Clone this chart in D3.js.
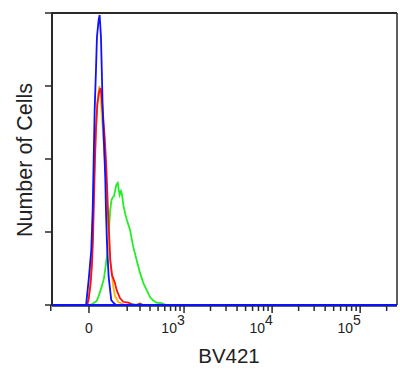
<!DOCTYPE html>
<html>
<head>
<meta charset="utf-8">
<script src="https://cdn.jsdelivr.net/npm/d3@7"></script>
<style>
  html, body { margin: 0; padding: 0; background: #fff; }
  svg { display: block; font-family: "Liberation Sans", Arial, sans-serif; }
</style>
</head>
<body>
<svg id="chart" width="400" height="369"></svg>
<script>
// ---------- data (fluorescence intensity, % of max count) ----------
const greenX  = [7, 35, 42, 58, 69, 76, 84, 90, 95, 100, 107, 115, 120, 127, 133, 141, 147, 152, 160, 166, 175, 187, 198, 220, 244, 271, 300, 331, 365, 400, 438, 480, 552, 620];
const greenY  = [0, 1.4, 2.7, 6.2, 9.2, 12.7, 17.1, 22.3, 27.4, 32.5, 36, 37, 37.3, 39.4, 41.1, 41.8, 39.4, 37.7, 39, 38, 34.2, 31.2, 29.1, 25.7, 19.9, 15.4, 11, 7.5, 5.1, 2.7, 1.5, 0.8, 0.6, 0];

const orangeX = [-7, 0, 7, 13.5, 19.4, 24.8, 31.6, 38.4, 46.8, 52.4, 57, 64.2, 71.4, 78.7, 86.1, 91.1, 98.8, 107.7, 116.2, 125.5, 144, 164, 185];
const orangeY = [0, 2.7, 8.6, 18.8, 34.2, 47.9, 60.6, 69.5, 75, 72.3, 66.8, 59.2, 51.4, 42.8, 32.5, 24.7, 16.1, 11, 6.2, 3.1, 1, 0.5, 0];

const redX    = [-9, -2.3, 6.8, 13.5, 18, 22.5, 27, 31.6, 37.5, 45.4, 52.4, 57, 62.8, 72.4, 78.7, 83.6, 88.6, 95.2, 100.4, 109.3, 125.5, 135, 154, 174, 207, 234, 265, 300, 328];
const redY    = [0, 1.7, 6.8, 13.7, 22.3, 36, 49.7, 60, 68.5, 72.9, 74.3, 71.9, 66.8, 57.5, 49.7, 41.8, 32.5, 23.3, 15.4, 10.3, 7.5, 5.1, 2.4, 1.1, 0.8, 0.3, 0, 0.5, 0];

const blueX   = [-32, -13, -1.3, 10.4, 16.7, 21.2, 25.7, 31.6, 36.1, 43.9, 48.6, 54.7, 59.4, 62.8, 69, 75.3, 78.7, 83.6, 92.2, 105.6, 118.4, 131];
const blueY   = [0, 0, 8.6, 18.8, 32.5, 49.7, 66.8, 80.5, 91.8, 97.6, 99.3, 91.8, 78.1, 66.8, 55.5, 43.8, 32.5, 21.2, 9.6, 1.7, 0.7, 0];

const majorTicks = [0, 1e3, 1e4, 1e5];
const majorExp   = [null, "3", "4", "5"];
const minorTicks = [-200, 200, 300, 400, 500, 600, 700, 800, 900,
                    2e3, 3e3, 4e3, 5e3, 6e3, 7e3, 8e3, 9e3,
                    2e4, 3e4, 4e4, 5e4, 6e4, 7e4, 8e4, 9e4, 2e5];
const yTicks = [0, 25, 50, 75, 100];

const series = [
  { x: greenX,  y: greenY,  color: "#22ee22" },
  { x: orangeX, y: orangeY, color: "#ffb400" },
  { x: redX,    y: redY,    color: "#ff1010" },
  { x: blueX,   y: blueY,   color: "#1010ff" }
];

// ---------- logicle-like transform ----------
const T = 262144, P = 1.07, Z_MIN = -0.42, Z_MAX = 3.5;
function raw(z) { return Math.pow(10, z) - P * P * Math.pow(10, -z / P) + P * P - 1; }
const K = T / raw(Z_MAX);
function S(z) { return z < 0 ? -S(-z) : K * raw(z); }
function zOf(v) {
  if (v < 0) return -zOf(-v);
  let lo = 0, hi = 5;
  for (let i = 0; i < 80; i++) { const m = (lo + hi) / 2; if (S(m) < v) lo = m; else hi = m; }
  return (lo + hi) / 2;
}

// ---------- layout ----------
const L = 52, R = 397, TOP = 13, BOT = 305;
const svg = d3.select("#chart");
const zScale = d3.scaleLinear().domain([Z_MIN, Z_MAX]).range([L, R]);
const X = v => zScale(zOf(v));
const Y = d3.scaleLinear().domain([0, 100]).range([BOT, TOP]);
const vMin = S(Z_MIN), vMax = S(Z_MAX);

// histograms
const line = d3.line().x(d => X(d[0])).y(d => Y(d[1]));
svg.append("g").selectAll("path").data(series).join("path")
  .attr("d", s => line([[vMin, 0]].concat(s.x.map((v, i) => [v, s.y[i]]), [[vMax, 0]])))
  .attr("fill", "none")
  .attr("stroke", s => s.color)
  .attr("stroke-width", 1.8)
  .attr("stroke-linejoin", "miter");

// frame
const axisColor = "#2a2a2a";
const frame = svg.append("g").attr("stroke", axisColor).attr("fill", "none");
frame.append("line").attr("x1", L).attr("x2", L).attr("y1", TOP - 1).attr("y2", BOT + 1).attr("stroke-width", 2);
frame.append("line").attr("x1", L).attr("x2", R).attr("y1", TOP).attr("y2", TOP).attr("stroke-width", 2);
frame.append("line").attr("x1", R).attr("x2", R).attr("y1", TOP).attr("y2", BOT).attr("stroke-width", 1.5);
frame.append("line").attr("x1", L).attr("x2", R).attr("y1", BOT + 1).attr("y2", BOT + 1).attr("stroke-width", 1.5);

// y ticks
frame.selectAll("line.yt").data(yTicks).join("line").attr("class", "yt")
  .attr("x1", L - 7).attr("x2", L).attr("y1", d => Y(d)).attr("y2", d => Y(d)).attr("stroke-width", 1.5);

// x ticks
frame.selectAll("line.xmaj").data(majorTicks).join("line").attr("class", "xmaj")
  .attr("x1", d => X(d)).attr("x2", d => X(d)).attr("y1", BOT).attr("y2", BOT + 8).attr("stroke-width", 1.5);
frame.selectAll("line.xmin").data(minorTicks).join("line").attr("class", "xmin")
  .attr("x1", d => X(d)).attr("x2", d => X(d)).attr("y1", BOT).attr("y2", BOT + 6).attr("stroke-width", 1.5);

// redraw blue baseline on top of axis
svg.append("line").attr("x1", L + 1).attr("x2", R).attr("y1", Y(0)).attr("y2", Y(0))
  .attr("stroke", "#1010ff").attr("stroke-width", 1.8);

// x tick labels
const lab = svg.append("g").attr("fill", "#222").attr("font-size", 14);
majorTicks.forEach((v, i) => {
  const t = lab.append("text").attr("y", 333).attr("text-anchor", "middle");
  if (majorExp[i] === null) {
    t.attr("x", X(v)).text("0");
  } else {
    t.attr("x", X(v) - 11);
    t.append("tspan").text("10");
    t.append("tspan").attr("dy", -8).text(majorExp[i]);
  }
});

// axis titles
svg.append("text").attr("x", 229).attr("y", 363).attr("text-anchor", "middle")
  .attr("font-size", 20.5).attr("fill", "#222").text("BV421");
svg.append("text").attr("transform", "translate(32,160) rotate(-90)").attr("text-anchor", "middle")
  .attr("font-size", 21.5).attr("fill", "#222").text("Number of Cells");
</script>
</body>
</html>
